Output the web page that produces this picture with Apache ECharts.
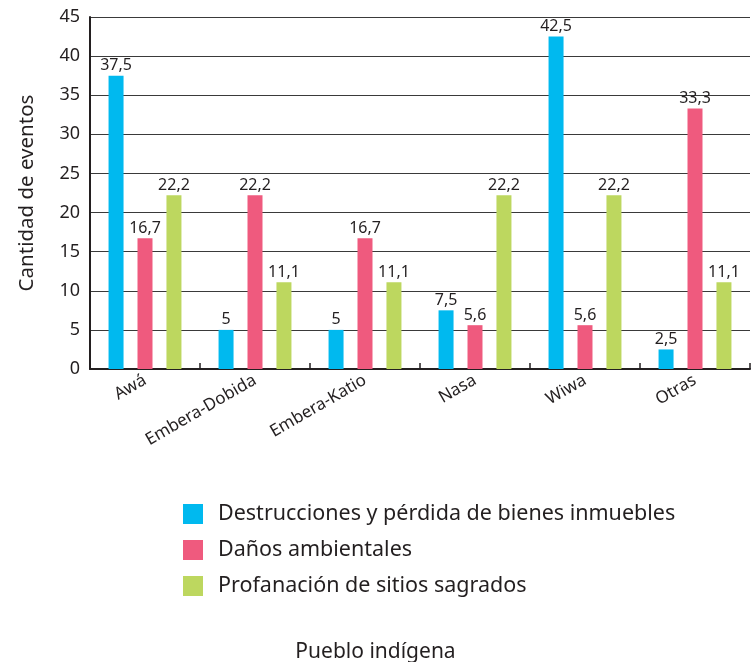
<!DOCTYPE html>
<html>
<head>
<meta charset="utf-8">
<script src="https://cdn.jsdelivr.net/npm/echarts@6/dist/echarts.min.js"></script>
<style>
  html, body { margin: 0; padding: 0; background: #fff; }
  #chart { width: 751px; height: 662px; }
</style>
</head>
<body>
<div id="chart"></div>
<script>
// datos
const pueblos = ['Awá', 'Embera-Dobida', 'Embera-Katio', 'Nasa', 'Wiwa', 'Otras'];
const destrucciones = [37.5, 5, 5, 7.5, 42.5, 2.5];
const danos = [16.7, 22.2, 16.7, 5.6, 5.6, 33.3];
const profanacion = [22.2, 11.1, 11.1, 22.2, 22.2, 11.1];
const nombres = ['Destrucciones y pérdida de bienes inmuebles', 'Daños ambientales', 'Profanación de sitios sagrados'];

const fuente = '"Noto Sans", sans-serif';
const texto = '#231f20';

const etiqueta = {
    show: true,
    position: 'top',
    distance: 2,
    fontFamily: fuente,
    fontSize: 16,
    color: texto,
    formatter: (p) => String(p.value).replace('.', ',')
};

const mkSerie = (name, data, color) => ({
    name: name,
    type: 'bar',
    data: data,
    barWidth: 15,
    barGap: '93%',
    itemStyle: { color: color },
    label: etiqueta
});

let charts = echarts.init(document.getElementById('chart'));
charts.setOption({
    animation: false,
    textStyle: { fontFamily: fuente, color: texto },
    title: {
        text: 'Pueblo indígena',
        left: 'center',
        top: 637,
        textStyle: { fontFamily: fuente, fontSize: 21, fontWeight: 'normal', color: texto }
    },
    legend: {
        orient: 'vertical',
        left: 178,
        top: 498,
        itemWidth: 20,
        itemHeight: 20,
        itemGap: 14,
        icon: 'rect',
        textStyle: { fontFamily: fuente, fontSize: 21.5, lineHeight: 20, color: texto, padding: [0, 0, 0, 10] },
        data: nombres
    },
    grid: { left: 90, right: 1, top: 17, bottom: 293, containLabel: false },
    xAxis: {
        type: 'category',
        data: pueblos,
        axisLine: { lineStyle: { color: '#231f20', width: 2 } },
        axisTick: { show: true, inside: true, length: 6, lineStyle: { color: '#231f20', width: 1.5 } },
        axisLabel: { rotate: 30, fontFamily: fuente, fontSize: 17, color: texto, margin: 10 }
    },
    yAxis: {
        type: 'value',
        min: 0,
        max: 45,
        interval: 5,
        name: 'Cantidad de eventos',
        nameLocation: 'middle',
        nameGap: 52,
        nameRotate: 90,
        nameTextStyle: { fontFamily: fuente, fontSize: 20.5, color: texto },
        axisLine: { show: true, lineStyle: { color: '#231f20', width: 2 } },
        axisTick: { show: false },
        axisLabel: { fontFamily: fuente, fontSize: 18, color: texto, margin: 10 },
        splitLine: { show: true, lineStyle: { color: '#3a3a3a', width: 1 } }
    },
    series: [
        mkSerie(nombres[0], destrucciones, '#00b9ef'),
        mkSerie(nombres[1], danos, '#ef5a7e'),
        mkSerie(nombres[2], profanacion, '#bdd75f')
    ]
});
</script>
</body>
</html>
